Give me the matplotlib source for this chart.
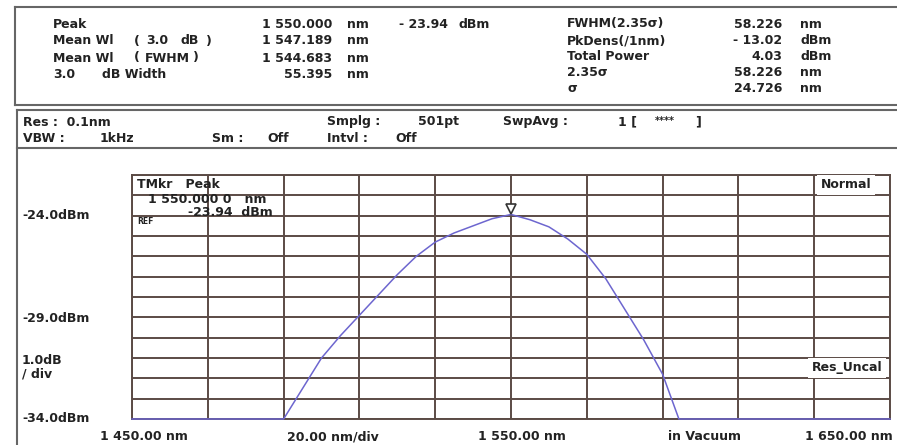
import matplotlib
matplotlib.use('Agg')
import matplotlib.pyplot as plt
import matplotlib.transforms as mtransforms
import numpy as np

# trace (nm, dBm); -34 is the display floor
wavelength = [1450, 1490, 1495, 1500, 1505, 1510, 1515, 1520, 1525, 1530, 1535, 1540,
              1545, 1550, 1555, 1560, 1565, 1570, 1575, 1580, 1585, 1590, 1594.3, 1650]
power = [-34.0, -34.0, -32.5, -31.0, -29.9, -28.9, -27.9, -26.9, -26.0, -25.3, -24.85, -24.5,
         -24.15, -23.94, -24.2, -24.55, -25.15, -25.9, -27.1, -28.6, -30.1, -31.8, -34.0, -34.0]

peak_wl = 1550.0
peak_db = -23.94

x_ticks = np.arange(1450, 1651, 20)
y_ticks = np.arange(-34, -21, 1)

# left labels are drawn in pieces, as the instrument spaces them out
meas_left = [[(53, 'Peak')],
             [(53, 'Mean Wl'), (134, '('), (146, '3.0'), (180, 'dB'), (206, ')')],
             [(53, 'Mean Wl'), (134, '('), (145, 'FWHM'), (193, ')')],
             [(53, '3.0'), (102, 'dB Width')]]
meas_left_val = ['1 550.000', '1 547.189', '1 544.683', '55.395']
meas_left_unit = ['nm', 'nm', 'nm', 'nm']
meas_right = ['FWHM(2.35\u03c3)', 'PkDens(/1nm)', 'Total Power', '2.35\u03c3', '\u03c3']
meas_right_val = ['58.226', '- 13.02', '4.03', '58.226', '24.726']
meas_right_unit = ['nm', 'dBm', 'dBm', 'nm', 'nm']

W, H = 897, 445
GRID = '#5b4b45'
TRACE = '#6d66cf'
FRAME = '#666666'
INK = '#222222'

plt.rcParams['font.family'] = ['DejaVu Sans']
fig = plt.figure(figsize=(W / 100, H / 100), dpi=100)
fig.patch.set_facecolor('white')


def px(x, y):
    return x / W, 1 - y / H


def txt(x, y, s, size=9, ha='left', **kw):
    fx, fy = px(x, y)
    fig.text(fx, fy, s, ha=ha, va='center', fontsize=size, fontweight='bold',
             color=INK, **kw)


def hline(y, x0, x1, lw=1.5):
    fig.add_artist(plt.Line2D([x0 / W, x1 / W], [1 - y / H, 1 - y / H], color=FRAME, lw=lw))


def vline(x, y0, y1, lw=1.5):
    fig.add_artist(plt.Line2D([x / W, x / W], [1 - y0 / H, 1 - y1 / H], color=FRAME, lw=lw))


# frames
hline(7, 15, W)
vline(15, 7, 105)
hline(105, 15, W)
hline(110, 17, W)
hline(148, 17, W)
vline(17, 110, H)

# measurement box
rows_l = [24, 41, 58, 74]
for i, y in enumerate(rows_l):
    for x, piece in meas_left[i]:
        txt(x, y, piece)
    txt(332, y, meas_left_val[i], ha='right')
    txt(347, y, meas_left_unit[i])
txt(448, 24, '- 23.94', ha='right')
txt(458, 24, 'dBm')
rows_r = [24, 41, 57, 73, 89]
for i, y in enumerate(rows_r):
    txt(567, y, meas_right[i])
    txt(782, y, meas_right_val[i], ha='right')
    txt(800, y, meas_right_unit[i])

# settings box
txt(23, 122, 'Res :  0.1nm')
txt(23, 139, 'VBW :')
txt(100, 139, '1kHz')
txt(212, 139, 'Sm :')
txt(267, 139, 'Off')
txt(327, 122, 'Smplg :')
txt(418, 122, '501pt')
txt(327, 139, 'Intvl :')
txt(395, 139, 'Off')
txt(503, 122, 'SwpAvg :')
txt(618, 122, '1 [')
txt(655, 121, '****', size=7)
txt(695, 122, ']')

# trace area
l, r, t, b = 132, 890, 175, 419
ax = fig.add_axes([l / W, 1 - b / H, (r - l) / W, (b - t) / H])
ax.set_xlim(1450, 1650)
ax.set_ylim(-34, -22)
ax.set_xticks(x_ticks)
ax.set_yticks(y_ticks)
ax.grid(True, color=GRID, lw=1.4)
ax.tick_params(length=0, labelbottom=False, labelleft=False)
for s in ax.spines.values():
    s.set_color(GRID)
    s.set_linewidth(1.4)
ax.plot(wavelength, power, color=TRACE, lw=1.1, clip_on=False, zorder=3)

# peak marker, sitting just above the trace
off = mtransforms.ScaledTranslation(0, 5 / 100, fig.dpi_scale_trans)
ax.plot([peak_wl], [peak_db], marker='v', ms=7, mfc='white', mec='#333333', mew=1.2,
        transform=ax.transData + off, zorder=4)

ax.text(0.007, 0.96, 'TMkr   Peak', transform=ax.transAxes, fontsize=9, fontweight='bold',
        va='center', color=INK)
ax.text(0.021, 0.90, '1 550.000 0   nm', transform=ax.transAxes, fontsize=9,
        fontweight='bold', va='center', color=INK)
ax.text(0.074, 0.845, '-23.94  dBm', transform=ax.transAxes, fontsize=9,
        fontweight='bold', va='center', color=INK)
ax.text(0.007, 0.81, 'REF', transform=ax.transAxes, fontsize=5.5, fontweight='bold',
        va='center', color=INK)
ax.text(0.975, 0.96, 'Normal', transform=ax.transAxes, fontsize=9, fontweight='bold',
        va='center', ha='right', color=INK,
        bbox=dict(facecolor='white', edgecolor='none', pad=2.5), zorder=5)
ax.text(0.99, 0.21, 'Res_Uncal', transform=ax.transAxes, fontsize=9, fontweight='bold',
        va='center', ha='right', color=INK,
        bbox=dict(facecolor='white', edgecolor='none', pad=2.5), zorder=5)

# scale labels
txt(22, 216, '-24.0dBm')
txt(22, 318, '-29.0dBm')
txt(22, 360, '1.0dB')
txt(22, 374, '/ div')
txt(22, 418, '-34.0dBm')
txt(100, 437, '1 450.00 nm')
txt(287, 437, '20.00 nm/div')
txt(478, 437, '1 550.00 nm')
txt(668, 437, 'in Vacuum')
txt(805, 437, '1 650.00 nm')

fig.savefig('out.png', dpi=100)
